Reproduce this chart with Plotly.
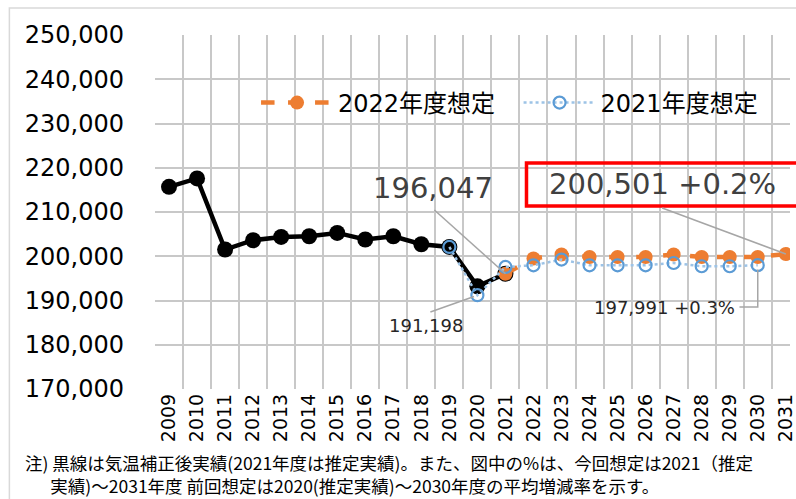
import plotly.graph_objects as go

# ---------------- data ----------------
years = [str(y) for y in range(2009, 2032)]

actual_years = years[0:13]          # 2009-2021 (気温補正後実績)
actual_values = [215680, 217580, 201520, 203620, 204370, 204520, 205270,
                 203780, 204520, 202710, 202100, 193210, 196047]

fc2022_name = "2022年度想定"
fc2022_years = years[12:23]         # 2021-2031
fc2022_values = [196047, 199480, 200380, 199840, 199840, 199840, 200380,
                 199840, 199840, 199840, 200501]

fc2021_name = "2021年度想定"
fc2021_years = years[10:22]         # 2019-2030
fc2021_values = [202100, 191198, 197580, 197960, 199250, 197960, 197960,
                 197960, 198480, 197740, 197740, 197991]

y_ticks = list(range(170000, 250001, 10000))

note_line1 = "注) 黒線は気温補正後実績(2021年度は推定実績)。また、図中の%は、今回想定は2021（推定"
note_line2 = "実績)～2031年度 前回想定は2020(推定実績)～2030年度の平均増減率を示す。"

# ---------------- layout geometry ----------------
W, H = 796, 499
PL, PT, PW, PH = 155, 35, 641, 354
XR = [-0.5, -0.5 + PW / 28.3]
YR = [170000, 250000]

def idx(labels):
    return [years.index(v) for v in labels]

def pxp(xp):  # pixel -> paper x
    return (xp - PL) / PW

def pyp(yp):  # pixel -> paper y
    return (PT + PH - yp) / PH

def dx(xp):   # pixel -> data x
    return XR[0] + (xp - PL) / PW * (XR[1] - XR[0])

def dy(yp):   # pixel -> data y
    return YR[1] - (yp - PT) / PH * (YR[1] - YR[0])

FONT = "DejaVu Sans, Noto Sans CJK JP, sans-serif"
JFONT = "Noto Sans CJK JP, sans-serif"
GRID = "#C8C8C8"
LEAD = "#A6A6A6"

fig = go.Figure()

fig.add_trace(go.Scatter(
    x=idx(actual_years), y=actual_values, mode="lines+markers",
    line=dict(color="#000000", width=4.5),
    marker=dict(color="#000000", size=16),
    showlegend=False, name="実績"))

fig.add_trace(go.Scatter(
    x=idx(fc2022_years), y=fc2022_values, mode="lines+markers",
    name=fc2022_name, legend="legend",
    line=dict(color="#ED7D31", width=4.5, dash="dash"),
    marker=dict(color="#ED7D31", size=14)))

fig.add_trace(go.Scatter(
    x=idx(fc2021_years), y=fc2021_values, mode="lines+markers",
    name=fc2021_name, legend="legend2",
    line=dict(color="#9DC3E6", width=2.5, dash="dot"),
    marker=dict(symbol="circle-open", color="#5B9BD5", size=12,
                line=dict(width=2.2, color="#5B9BD5"))))

shapes = []
# outer chart border
shapes.append(dict(type="rect", xref="paper", yref="paper",
                   x0=pxp(8), x1=pxp(900), y0=pyp(8), y1=pyp(700),
                   line=dict(color="#D9D9D9", width=1.5), layer="below"))
# red box
shapes.append(dict(type="rect", xref="paper", yref="paper",
                   x0=pxp(530), x1=pxp(840), y0=pyp(163), y1=pyp(206),
                   line=dict(color="#FF0000", width=3.5)))

# leader lines
i21 = years.index("2021")
shapes.append(dict(type="line", xref="x", yref="y",
                   x0=dx(437), y0=dy(210), x1=i21, y1=actual_values[actual_years.index("2021")],
                   line=dict(color=LEAD, width=1.5)))
i20 = years.index("2020")
shapes.append(dict(type="line", xref="x", yref="y",
                   x0=dx(433), y0=dy(312), x1=i20 - 0.12,
                   y1=fc2021_values[fc2021_years.index("2020")] - 300,
                   line=dict(color=LEAD, width=1.5)))
i31 = years.index("2031")
shapes.append(dict(type="line", xref="x", yref="y",
                   x0=dx(667), y0=dy(208), x1=i31, y1=fc2022_values[-1],
                   line=dict(color=LEAD, width=1.5)))
i30 = years.index("2030")
y30 = fc2021_values[fc2021_years.index("2030")]
shapes.append(dict(type="path", xref="x", yref="y",
                   path=f"M {dx(745)},{dy(307)} L {i30},{dy(307)} L {i30},{y30 - 1000}",
                   line=dict(color=LEAD, width=1.5)))

note_text = note_line1 + "<br>" + "\u3000\u00a0\u00a0" + note_line2

annotations = [
    dict(text="196,047", x=pxp(436), y=pyp(188), xref="paper", yref="paper",
         showarrow=False, font=dict(family=FONT, size=29, color="#404040"),
         xanchor="center", yanchor="middle"),
    dict(text="191,198", x=pxp(429), y=pyp(325), xref="paper", yref="paper",
         showarrow=False, font=dict(family=FONT, size=18, color="#262626"),
         xanchor="center", yanchor="middle"),
    dict(text="200,501 +0.2%", x=pxp(551), y=pyp(184), xref="paper", yref="paper",
         showarrow=False, font=dict(family=FONT, size=29, color="#404040"),
         xanchor="left", yanchor="middle"),
    dict(text="197,991 +0.3%", x=pxp(743), y=pyp(307), xref="paper", yref="paper",
         showarrow=False, font=dict(family=FONT, size=18, color="#262626"),
         xanchor="right", yanchor="middle"),
    dict(text=note_text, x=pxp(22), y=pyp(474), xref="paper", yref="paper",
         showarrow=False, align="left",
         font=dict(family=JFONT, size=17.5, color="#000000"),
         xanchor="left", yanchor="middle"),
]

legend_common = dict(orientation="h", xanchor="left", yanchor="middle",
                     bgcolor="rgba(0,0,0,0)",
                     font=dict(family=FONT, size=24, color="#000000"),
                     itemwidth=72)

fig.update_layout(
    width=W, height=H,
    margin=dict(l=PL, r=W - PL - PW, t=PT, b=H - PT - PH, pad=0),
    paper_bgcolor="white", plot_bgcolor="white",
    shapes=shapes, annotations=annotations,
    legend=dict(x=pxp(257), y=pyp(103), **legend_common),
    legend2=dict(x=pxp(522), y=pyp(103), **legend_common),
    xaxis=dict(range=XR, tickmode="array", tickvals=list(range(len(years))), ticktext=years,
               tickangle=-90, showgrid=False, zeroline=False, showline=False, ticks="",
               ticklabeloverflow="allow",
               tickfont=dict(family=FONT, size=19, color="#000000"),
               minor=dict(tickmode="array", tickvals=[i - 0.5 for i in range(len(years) + 1)],
                          showgrid=True, gridcolor=GRID, gridwidth=1.6, ticks="")),
    yaxis=dict(range=YR, tickmode="array", tickvals=y_ticks, tickformat=",",
               showgrid=True, gridcolor=GRID, gridwidth=1.6, zeroline=False, showline=False,
               ticks="", ticklabelstandoff=30,
               tickfont=dict(family=FONT, size=24, color="#000000")),
)

fig.write_html("out.html", config={"displayModeBar": False},
               post_script="document.body.style.margin='0px';")
